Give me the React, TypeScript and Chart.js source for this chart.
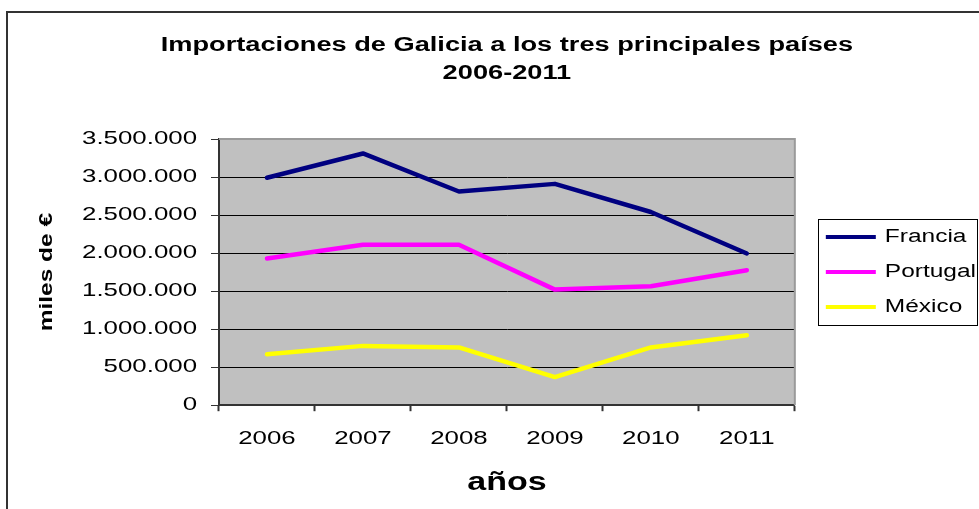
import React, { useEffect, useRef } from 'react';
import { Chart, registerables } from 'chart.js';

Chart.register(...registerables);

// ---- data ----
const years = ['2006', '2007', '2008', '2009', '2010', '2011'];
const francia = [2990000, 3310000, 2810000, 2910000, 2540000, 1995000];
const portugal = [1930000, 2110000, 2110000, 1520000, 1565000, 1775000];
const mexico = [670000, 780000, 760000, 370000, 760000, 920000];
const seriesNames = ['Francia', 'Portugal', 'México'];
const seriesColors = ['#000080', '#FF00FF', '#FFFF00'];
const yMin = 0;
const yMax = 3500000;
const yStep = 500000;
const titleLines = ['Importaciones de Galicia a los tres principales países', '2006-2011'];
const yTitle = 'miles de €';
const xTitle = 'años';

const STRETCH = 1.36;
const FONT = "'Liberation Sans', Arial, Helvetica, sans-serif";

function fmt(v: number): string {
  return String(Math.round(v)).replace(/\B(?=(\d{3})+(?!\d))/g, '.');
}

// Excel-like wide text: stretch glyphs along their reading direction
function stretchText(ctx: any) {
  if (ctx.__stretched) return;
  ctx.__stretched = true;
  const proto: any = CanvasRenderingContext2D.prototype;
  ctx.fillText = function (text: string, x: number, y: number) {
    this.save();
    this.translate(x, y);
    this.scale(STRETCH, 1);
    proto.fillText.call(this, text, 0, 0);
    this.restore();
  };
  ctx.measureText = function (text: string) {
    const m = proto.measureText.call(this, text);
    return {
      width: m.width * STRETCH,
      actualBoundingBoxLeft: m.actualBoundingBoxLeft * STRETCH,
      actualBoundingBoxRight: m.actualBoundingBoxRight * STRETCH,
      actualBoundingBoxAscent: m.actualBoundingBoxAscent,
      actualBoundingBoxDescent: m.actualBoundingBoxDescent,
      fontBoundingBoxAscent: m.fontBoundingBoxAscent,
      fontBoundingBoxDescent: m.fontBoundingBoxDescent,
    };
  };
}

const decor = {
  id: 'decor',
  beforeDraw(chart: any) {
    const { ctx, chartArea: a } = chart;
    ctx.save();
    ctx.fillStyle = '#c0c0c0';
    ctx.fillRect(a.left, a.top, a.right - a.left, a.bottom - a.top);
    ctx.restore();
  },
  beforeDatasetsDraw(chart: any) {
    const { ctx, chartArea: a } = chart;
    ctx.save();
    ctx.strokeStyle = '#9a9a9a';
    ctx.lineWidth = 2;
    ctx.beginPath();
    ctx.moveTo(a.left, a.top);
    ctx.lineTo(a.right, a.top);
    ctx.lineTo(a.right, a.bottom);
    ctx.stroke();
    ctx.restore();
  },
  afterDraw(chart: any) {
    const { ctx } = chart;
    ctx.save();
    // outer chart border
    ctx.strokeStyle = '#333333';
    ctx.lineWidth = 2;
    ctx.strokeRect(7, 12, chart.width + 20, chart.height + 20);
    // legend frame
    const boxes = chart.legend && chart.legend.legendHitBoxes;
    if (boxes && boxes.length) {
      let l = Infinity, t = Infinity, r = -Infinity, b = -Infinity;
      boxes.forEach((h: any) => {
        l = Math.min(l, h.left);
        t = Math.min(t, h.top);
        r = Math.max(r, h.left + h.width);
        b = Math.max(b, h.top + h.height);
      });
      ctx.strokeStyle = '#000000';
      ctx.lineWidth = 1;
      ctx.strokeRect(Math.round(l - 8) + 0.5, Math.round(t - 9) + 0.5, Math.round(r - l + 9), Math.round(b - t + 18));
    }
    ctx.restore();
  },
};

export default function App() {
  const ref = useRef<HTMLCanvasElement | null>(null);

  useEffect(() => {
    const canvas = ref.current;
    if (!canvas) return;
    const ctx2d = canvas.getContext('2d');
    stretchText(ctx2d);

    const data = [francia, portugal, mexico];
    const chart = new Chart(canvas, {
      type: 'line',
      data: {
        labels: years,
        datasets: data.map((d, i) => ({
          label: seriesNames[i],
          data: d,
          borderColor: seriesColors[i],
          backgroundColor: seriesColors[i],
          borderWidth: 4.5,
          pointRadius: 0,
          pointHoverRadius: 0,
          tension: 0,
          fill: false,
          borderCapStyle: 'round',
          borderJoinStyle: 'round',
          yAxisID: 'y',
        })),
      },
      options: {
        responsive: false,
        animation: false,
        events: [],
        layout: { padding: { left: 10, right: -7, top: 0, bottom: 0 } },
        plugins: {
          tooltip: { enabled: false },
          title: {
            display: true,
            text: titleLines,
            fullSize: false,
            color: '#000',
            font: { family: FONT, size: 20, weight: 'bold', lineHeight: 1.4 },
            padding: { top: 31, bottom: 52 },
          },
          legend: {
            display: true,
            position: 'right',
            fullSize: false,
            align: 'center',
            maxWidth: 400,
            labels: {
              color: '#000',
              font: { family: FONT, size: 18 },
              boxWidth: 50,
              boxHeight: 4,
              padding: 17,
              generateLabels(ch: any) {
                const items = Chart.defaults.plugins.legend.labels.generateLabels(ch);
                return items.map((it: any, i: number) => ({
                  ...it,
                  fillStyle: seriesColors[i],
                  strokeStyle: seriesColors[i],
                  lineWidth: 0,
                }));
              },
            },
          },
        },
        scales: {
          x: {
            type: 'category',
            offset: true,
            grid: {
              display: true,
              offset: true,
              drawOnChartArea: false,
              drawTicks: true,
              tickLength: 6,
              tickColor: '#333333',
              tickWidth: 2,
            },
            border: { display: true, color: '#333333', width: 2 },
            ticks: {
              color: '#000',
              font: { family: FONT, size: 19 },
              padding: 16,
              maxRotation: 0,
              autoSkip: false,
            },
            title: {
              display: true,
              text: xTitle,
              color: '#000',
              font: { family: FONT, size: 25, weight: 'bold', lineHeight: 1.0 },
              padding: { top: 4.5, bottom: 13.5 },
            },
          },
          y: {
            type: 'linear',
            position: 'left',
            min: yMin,
            max: yMax,
            afterFit(s: any) {
              s.width = 209;
            },
            grid: {
              color: (c: any) => (c.tick && c.tick.value === yMax ? 'rgba(0,0,0,0)' : '#000000'),
              lineWidth: 1,
              tickLength: 8,
              tickColor: '#333333',
              tickWidth: 1,
            },
            border: { display: true, color: '#333333', width: 2 },
            ticks: {
              stepSize: yStep,
              color: '#000',
              font: { family: FONT, size: 19 },
              padding: 14,
              callback: (v: any) => fmt(Number(v)),
            },
            title: {
              display: true,
              text: yTitle,
              color: '#000',
              font: { family: FONT, size: 18, weight: 'bold', lineHeight: 1.2 },
              padding: { top: 26, bottom: 24 },
            },
          },
          ySpacer: {
            type: 'linear',
            position: 'right',
            display: true,
            grid: { display: false, drawTicks: false },
            border: { display: false },
            ticks: { display: false },
            afterFit(s: any) {
              s.width = 14;
            },
          },
        },
      },
      plugins: [decor],
    } as any);

    return () => chart.destroy();
  }, []);

  return (
    <div style={{ position: 'fixed', left: 0, top: 0, width: 979, height: 509, background: '#fff' }}>
      <canvas ref={ref} width={979} height={509} style={{ display: 'block', width: 979, height: 509 }} />
    </div>
  );
}
